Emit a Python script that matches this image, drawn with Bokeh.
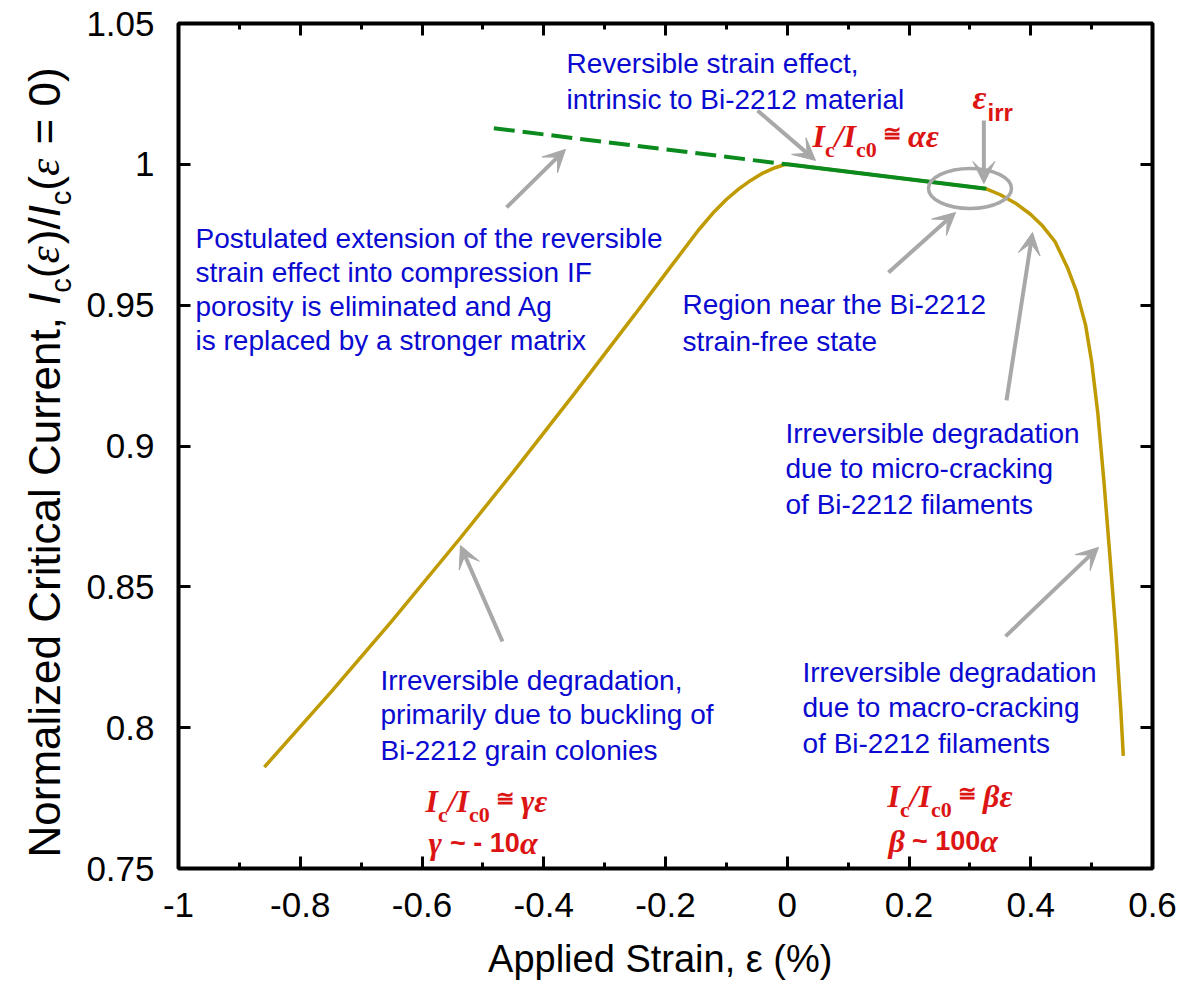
import math
from bokeh.plotting import figure
from bokeh.layouts import row
from bokeh.models import (Label, Arrow, VeeHead, FixedTicker, CustomJSTickFormatter,
                          LinearAxis, Range1d)
from bokeh.embed import file_html
from bokeh.resources import INLINE

# ---------------- data ----------------
strain_curve = [-0.859, -0.75, -0.65, -0.536, -0.45, -0.35, -0.25, -0.2, -0.146, -0.12, -0.1,
                -0.08, -0.06, -0.04, -0.02, -0.005, 0.0, 0.1, 0.2, 0.327, 0.35, 0.375, 0.4,
                0.42, 0.44, 0.46, 0.475, 0.49, 0.5, 0.51, 0.52, 0.53, 0.54, 0.548, 0.552]
ic_curve = [0.786, 0.8125, 0.8377, 0.8676, 0.8908, 0.9185, 0.9468, 0.9612, 0.9766, 0.9832,
            0.9875, 0.9912, 0.9943, 0.9969, 0.9988, 0.99985, 1.0, 0.9974, 0.9947, 0.9913,
            0.9892, 0.9862, 0.9822, 0.978, 0.9725, 0.9635, 0.955, 0.943, 0.930, 0.912,
            0.888, 0.861, 0.833, 0.806, 0.790]
rev_strain = [0.0, 0.327]
rev_ic = [1.0, 0.9913]
ext_strain = [-0.482, 0.0]
ext_ic = [1.0128, 1.0]
eps_irr = 0.323
region_center = (0.3002, 0.9914)
region_size = (0.1363, 0.0142)
x_ticks = [-1, -0.8, -0.6, -0.4, -0.2, 0, 0.2, 0.4, 0.6]
x_minor = [-0.9, -0.7, -0.5, -0.3, -0.1, 0.1, 0.3, 0.5]
y_ticks = [0.75, 0.8, 0.85, 0.9, 0.95, 1.0, 1.05]
# arrows: (tail_x, tail_y, tip_x, tip_y)
arrows = [
    (eps_irr, 1.0156, eps_irr, 0.9932),
    (-0.0489, 1.0191, 0.0464, 1.0014),
    (-0.4612, 0.9847, -0.3643, 1.0053),
    (0.1663, 0.9616, 0.2764, 0.9829),
    (0.3602, 0.9162, 0.4029, 0.9758),
    (0.3585, 0.8324, 0.5113, 0.8640),
    (-0.4678, 0.8306, -0.5368, 0.8647),
]

XMIN, XMAX, YMIN, YMAX = -1.0, 0.6, 0.75, 1.05
W, H = 1179, 986
YW = 76          # width of the strip holding the y title
FL, FR, FT, FB = 178, 1152, 23, 868   # frame edges in page pixels

def X(px):
    return XMIN + (px - FL) / (FR - FL) * (XMAX - XMIN)

def Y(py):
    return YMAX - (py - FT) / (FB - FT) * (YMAX - YMIN)

GOLD = "#BF9A00"
GREEN = "#0B8A1E"
GREY = "#A8A8A8"
BLUE = "#0A0AD0"
RED = "#DC1414"
SANS = "Liberation Sans"
SERIF = "Liberation Serif"

p = figure(width=W - YW, height=H, x_range=Range1d(XMIN, XMAX), y_range=Range1d(YMIN, YMAX),
           output_backend="svg", toolbar_location=None,
           min_border_left=FL - YW, min_border_right=W - FR, min_border_top=FT,
           min_border_bottom=H - FB, background_fill_color="white",
           border_fill_color="white")
p.xgrid.grid_line_color = None
p.ygrid.grid_line_color = None
p.outline_line_color = "black"
p.outline_line_width = 4
p.outline_line_alpha = 1.0

fmt = CustomJSTickFormatter(code="return String(Number(tick.toFixed(2)));")

def style_axis(ax):
    ax.axis_line_color = None
    ax.major_tick_in = 12
    ax.major_tick_out = 0
    ax.major_tick_line_width = 3
    ax.major_tick_line_color = "black"
    ax.minor_tick_in = 6
    ax.minor_tick_out = 0
    ax.minor_tick_line_width = 3
    ax.minor_tick_line_color = "black"
    ax.major_label_text_font = SANS
    ax.major_label_text_font_size = "35px"
    ax.major_label_text_color = "black"
    ax.formatter = fmt

xa = p.xaxis[0]
xa.ticker = FixedTicker(ticks=x_ticks, minor_ticks=x_minor)
style_axis(xa)
xa.major_label_standoff = 24
xa.axis_label = "Applied Strain,  ε (%)"
xa.axis_label_text_font = SANS
xa.axis_label_text_font_size = "38px"
xa.axis_label_text_font_style = "normal"
xa.axis_label_text_color = "black"
xa.axis_label_standoff = 18
ya = p.yaxis[0]
ya.ticker = FixedTicker(ticks=y_ticks, minor_ticks=[])
style_axis(ya)
ya.major_label_standoff = 24

top = LinearAxis(ticker=FixedTicker(ticks=x_ticks, minor_ticks=x_minor))
style_axis(top)
top.major_label_text_font_size = "1px"
top.major_label_text_color = None
top.major_label_standoff = 0
p.add_layout(top, "above")
right = LinearAxis(ticker=FixedTicker(ticks=y_ticks, minor_ticks=[]))
style_axis(right)
right.major_label_text_font_size = "1px"
right.major_label_text_color = None
right.major_label_standoff = 0
p.add_layout(right, "right")

# ---------------- curves ----------------
p.line(strain_curve, ic_curve, line_color=GOLD, line_width=3.5)
p.line(ext_strain, ext_ic, line_color=GREEN, line_width=4, line_dash="21 8")
p.line(rev_strain, rev_ic, line_color=GREEN, line_width=4)
p.ellipse(x=[region_center[0]], y=[region_center[1]], width=[region_size[0]],
          height=[region_size[1]], fill_color=None, line_color=GREY, line_width=3.5)

for (x0, y0, x1, y1) in arrows:
    p.add_layout(Arrow(x_start=x0, y_start=y0, x_end=x1, y_end=y1, line_color=GREY,
                       line_width=4,
                       end=VeeHead(size=22, fill_color=GREY, line_color=GREY, line_width=1)))

# ---------------- y-title strip (own small figure, frame aligned with main frame) ----------------
ytf = figure(width=YW, height=H, x_range=Range1d(0, YW), y_range=Range1d(FB, FT),
             output_backend="svg", toolbar_location=None, x_axis_type=None,
             y_axis_type=None, min_border_left=0, min_border_right=0,
             min_border_top=FT, min_border_bottom=H - FB,
             background_fill_color="white", border_fill_color="white")
ytf.outline_line_color = None

# ---------------- text helpers ----------------
ARIAL = {' ': 278, '(': 333, ')': 333, '%': 889, ',': 278, '-': 333, '.': 278, '/': 278,
         '=': 584, '~': 584, 'A': 667, 'B': 667, 'C': 722, 'I': 278, 'N': 722, 'S': 667,
         'a': 556, 'b': 556, 'c': 500, 'd': 556, 'e': 556, 'f': 278, 'g': 556, 'h': 556,
         'i': 222, 'l': 222, 'm': 833, 'n': 556, 'o': 556, 'p': 556, 'r': 333, 's': 500,
         't': 278, 'u': 556, 'v': 500, 'z': 500, 'y': 500, 'k': 500, 'ε': 440, '≅': 584}
for d in "0123456789":
    ARIAL[d] = 556
ARIALB = {' ': 278, '-': 333, '~': 584, 'i': 278, 'r': 389, '≅': 584}
for d in "0123456789":
    ARIALB[d] = 556
TIMESBI = {' ': 250, 'I': 389, 'c': 444, '0': 500, '/': 278, 'α': 560, 'β': 500, 'γ': 440,
           'ε': 440}
SERIFI = {'ε': 440}

def twidth(txt, table, size):
    return sum(table.get(ch, 500) for ch in txt) / 1000.0 * size

def place(fig, fx, fy, pieces, x0, y0, angle=0.0):
    pos = x0 if angle == 0 else y0
    for (txt, fam, size, style, color, dy, table) in pieces:
        lead = len(txt) - len(txt.lstrip(' '))
        shown = txt.strip(' ')
        off = twidth(' ' * lead, table, size)
        if shown:
            if angle == 0:
                lx, ly = pos + off, y0 + dy
            else:
                lx, ly = x0 + dy, pos - off
            fig.add_layout(Label(x=fx(lx), y=fy(ly), text=shown, text_font=fam,
                                 text_font_size=f"{size}px", text_font_style=style,
                                 text_color=color, text_align="left",
                                 text_baseline="alphabetic", angle=angle))
        w = twidth(txt, table, size)
        pos = pos + w if angle == 0 else pos - w

def lines(texts, x0, baselines, size=28, color=BLUE):
    for t, b in zip(texts, baselines):
        p.add_layout(Label(x=X(x0), y=Y(b), text=t, text_font=SANS,
                           text_font_size=f"{size}px", text_color=color,
                           text_align="left", text_baseline="alphabetic"))

# blue annotations
lines(["Reversible strain effect,", "intrinsic to Bi-2212 material"], 566, [63, 99])
lines(["Postulated extension of the reversible", "strain effect into compression IF",
       "porosity is eliminated and Ag", "is replaced by a stronger matrix"],
      195, [238, 272, 306, 340])
lines(["Region near the Bi-2212", "strain-free state"], 682, [304, 341])
lines(["Irreversible degradation", "due to micro-cracking", "of Bi-2212 filaments"],
      785, [433, 468, 504])
lines(["Irreversible degradation", "due to macro-cracking", "of Bi-2212 filaments"],
      802, [672, 707, 743])
lines(["Irreversible degradation,", "primarily due to buckling of", "Bi-2212 grain colonies"],
      380, [680, 714, 750])

# red formulas
def formula(x0, y0, greek):
    place(p, X, Y, [("I", SERIF, 32, "bold italic", RED, 0, TIMESBI),
                    ("c", SERIF, 22, "bold", RED, 14, TIMESBI),
                    ("/I", SERIF, 32, "bold italic", RED, 0, TIMESBI),
                    ("c0", SERIF, 22, "bold", RED, 14, TIMESBI),
                    (" ≅  ", SANS, 22, "bold", RED, -2, ARIALB),
                    (greek + "ε", SERIF, 32, "bold italic", RED, 0, TIMESBI)], x0, y0)

formula(812, 135, "α")
formula(425, 800, "γ")
formula(887, 795, "β")
place(p, X, Y, [("γ", SERIF, 32, "bold italic", RED, 0, TIMESBI),
                (" ~ - 10", SANS, 27, "bold", RED, 0, ARIALB),
                ("α", SERIF, 32, "bold italic", RED, 0, TIMESBI)], 428, 842)
place(p, X, Y, [("β", SERIF, 32, "bold italic", RED, 0, TIMESBI),
                (" ~ 100", SANS, 27, "bold", RED, 0, ARIALB),
                ("α", SERIF, 32, "bold italic", RED, 0, TIMESBI)], 888, 840)
place(p, X, Y, [("ε", SERIF, 34, "bold italic", RED, 0, TIMESBI),
                ("irr", SANS, 24, "bold", RED, 15, ARIALB)], 972, 97)

# y title (strip pixels == page pixels)
TS = 44
SUB = 29
place(ytf, lambda v: v, lambda v: v,
      [("Normalized Critical Current, ", SANS, TS, "normal", "black", 0, ARIAL),
       ("I", SANS, TS, "italic", "black", 0, ARIAL),
       ("c", SANS, SUB, "normal", "black", 16, ARIAL),
       ("(", SANS, TS, "normal", "black", 0, ARIAL),
       ("ε", SERIF, TS, "italic", "black", 0, SERIFI),
       (")/", SANS, TS, "normal", "black", 0, ARIAL),
       ("I", SANS, TS, "italic", "black", 0, ARIAL),
       ("c", SANS, SUB, "normal", "black", 16, ARIAL),
       ("(", SANS, TS, "normal", "black", 0, ARIAL),
       ("ε", SERIF, TS, "italic", "black", 0, SERIFI),
       (" = 0)", SANS, TS, "normal", "black", 0, ARIAL)], 44, 857, angle=math.pi / 2)

layout = row(ytf, p)
open("out.html", "w").write(file_html(layout, INLINE))
